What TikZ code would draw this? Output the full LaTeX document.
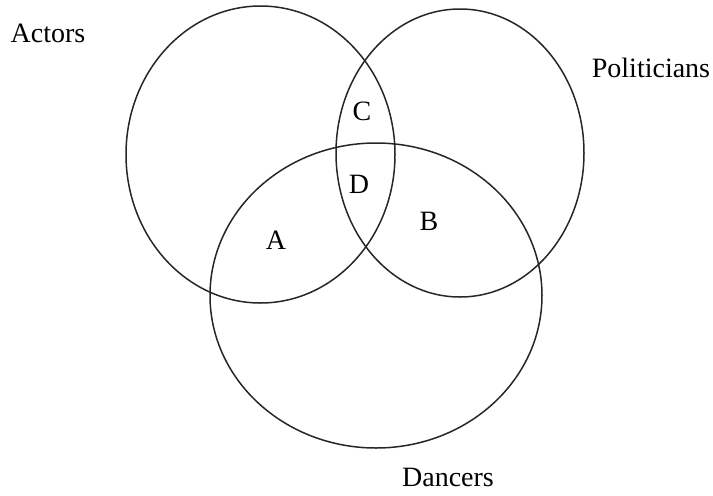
\documentclass[tikz,border=0pt]{standalone}
\usepackage{fontspec}
\setmainfont{Liberation Serif}
\usepackage{tikz}
\usetikzlibrary{positioning}
\tikzset{
  setline/.style ={draw=black!85,line width=0.75pt},
  setname/.style ={font=\fontsize{14}{16}\selectfont,inner sep=0pt},
  region/.style  ={font=\fontsize{14}{16}\selectfont,inner sep=0pt},
}

\begin{document}
\begin{tikzpicture}[x=0.5pt, y=0.5pt]
\useasboundingbox (0,0) rectangle (713,495);

% the three sets
\draw[setline] (260.5,340.5) ellipse [x radius=134.5, y radius=148.5];
\draw[setline] (460,342)     ellipse [x radius=124,   y radius=144];
\draw[setline] (376,199.5)   ellipse [x radius=166,   y radius=152.5];

\node[setname] (actors) at (48,462)  {Actors};
\node[setname] (pol)    at (651,427) {Politicians};
\node[setname] (dance)  at (448,18)  {Dancers};

% regions
\node[region] (rC) at (362,384) {C};
\node[region] (rD) at (359,311) {D};
\node[region] (rB) at (429,274) {B};
\node[region] (rA) at (276,255) {A};
\end{tikzpicture}
\end{document}
